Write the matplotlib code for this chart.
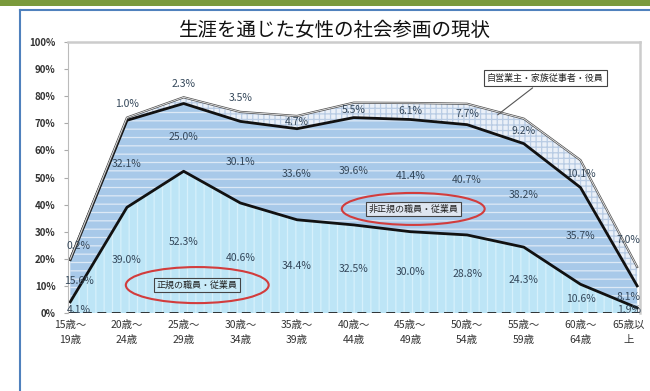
import matplotlib
matplotlib.use("Agg")
import matplotlib.pyplot as plt
from matplotlib.patches import Ellipse, Rectangle
from matplotlib.lines import Line2D
import numpy as np

plt.rcParams['font.family'] = ['Noto Sans CJK JP', 'DejaVu Sans']
plt.rcParams['hatch.linewidth'] = 0.9

# age groups
ages = ["15歳～\n19歳", "20歳～\n24歳", "25歳～\n29歳", "30歳～\n34歳", "35歳～\n39歳",
        "40歳～\n44歳", "45歳～\n49歳", "50歳～\n54歳", "55歳～\n59歳", "60歳～\n64歳", "65歳以\n上"]
# share of women by employment type (%)
regular = [4.1, 39.0, 52.3, 40.6, 34.4, 32.5, 30.0, 28.8, 24.3, 10.6, 1.9]
nonregular = [15.6, 32.1, 25.0, 30.1, 33.6, 39.6, 41.4, 40.7, 38.2, 35.7, 8.1]
selfemp = [0.2, 1.0, 2.3, 3.5, 4.7, 5.5, 6.1, 7.7, 9.2, 10.1, 7.0]
yticks = [0, 10, 20, 30, 40, 50, 60, 70, 80, 90, 100]

title = "生涯を通じた女性の社会参画の現状"
name_regular = "正規の職員・従業員"
name_nonregular = "非正規の職員・従業員"
name_self = "自営業主・家族従事者・役員"

x = np.arange(len(ages))
r = np.array(regular)
rn = r + np.array(nonregular)
tot = rn + np.array(selfemp)

fig = plt.figure(figsize=(6.5, 3.91), dpi=100)

# page decoration: green band, blue frame lines
fig.patches.append(Rectangle((0, 1 - 6/391), 1, 6/391, transform=fig.transFigure,
                             facecolor='#7a9a3c', edgecolor='none'))
fig.lines.append(Line2D([20/650, 1], [1 - 9.5/391] * 2, transform=fig.transFigure,
                        color='#4f81bd', lw=1.5))
fig.lines.append(Line2D([20/650] * 2, [0, 1 - 9.5/391], transform=fig.transFigure,
                        color='#4f81bd', lw=1.5))

fig.text(0.516, 1 - 30/391, title, ha='center', va='center', fontsize=14, color='#111111')

ax = fig.add_axes([68/650, 1 - 313/391, 572/650, 271/391])

ax.fill_between(x, 0, r, facecolor='#bde5f6', edgecolor='#d6f0fb', hatch='||', linewidth=0)
ax.fill_between(x, r, rn, facecolor='#a8c9e9', edgecolor='#dde9f6', hatch='--', linewidth=0)
ax.fill_between(x, rn, tot, facecolor='#eaf0f8', edgecolor='#b9cce4', hatch='+++', linewidth=0)

ax.plot(x, r, color='#111111', lw=2)
ax.plot(x, rn, color='#111111', lw=2)
ax.plot(x, tot, color='#555555', lw=1.6)
ax.plot(x, tot, color='white', lw=0.5)
ax.axhline(0, color='#222222', lw=2, dashes=(3.2, 2))

lab = dict(fontsize=7.5, color='#34475a', ha='center', va='center')
last = len(ages) - 1
for i in range(len(ages)):
    dx = 0.15 if i == 0 else (-0.15 if i == last else 0)
    ax.text(x[i] + dx, r[i] / 2 if i > 0 else 1.0, f"{regular[i]:.1f}%", **lab)
    ax.text(x[i] + dx, r[i] + nonregular[i] / 2, f"{nonregular[i]:.1f}%", **lab)
    if i == last:
        ys = tot[i] + 10
    elif selfemp[i] > 4:
        ys = tot[i] - selfemp[i] / 2
    else:
        ys = tot[i] + 5
    ax.text(x[i] + dx, ys, f"{selfemp[i]:.1f}%", clip_on=False, **lab)

# series names
box = dict(boxstyle='square,pad=0.35', facecolor='white', edgecolor='#444444', lw=0.8)
ax.annotate(name_self, xy=(7.5, 72.5), xytext=(8.38, 86.7), ha='center', va='center',
            fontsize=6.5, color='#222222', bbox=box,
            arrowprops=dict(arrowstyle='-', color='#555555', lw=0.8))
ax.text(6.05, 38.4, name_nonregular, ha='center', va='center', fontsize=6.5,
        color='#222222', bbox=dict(boxstyle='square,pad=0.3', facecolor='#dfe6f0',
                                   edgecolor='#444444', lw=0.8))
ax.add_patch(Ellipse((6.05, 38.4), 2.52, 11.8, facecolor='none', edgecolor='#d23c3c', lw=1.5))
ax.text(2.24, 10.3, name_regular, ha='center', va='center', fontsize=6.5,
        color='#222222', bbox=dict(boxstyle='square,pad=0.3', facecolor='#c9ebf8',
                                   edgecolor='#444444', lw=0.8))
ax.add_patch(Ellipse((2.24, 10.3), 2.52, 13.3, facecolor='none', edgecolor='#d23c3c', lw=1.5))

ax.set_xlim(-0.04, 10.05)
ax.set_ylim(0, 100)
ax.set_yticks(yticks)
ax.set_yticklabels([f"{t}%" for t in yticks], fontsize=7, color='#333333', fontweight='bold')
ax.set_xticks(x)
# last label sits on the right edge, so it is drawn by hand a little to the left
ax.set_xticklabels(ages[:-1] + [""], fontsize=7.5, color='#333333', linespacing=1.6)
ax.annotate(ages[-1], xy=(x[-1], 0), xycoords=('data', 'axes fraction'),
            xytext=(-6, -5), textcoords='offset points', ha='center', va='top',
            fontsize=7.5, color='#333333', linespacing=1.6)
ax.tick_params(axis='x', length=0, pad=5)
ax.tick_params(axis='y', length=3, color='#aaaaaa', pad=6)
for s in ['top', 'right']:
    ax.spines[s].set_color('#cccccc')
    ax.spines[s].set_linewidth(1.8)
ax.spines['left'].set_color('#bbbbbb')
ax.spines['bottom'].set_visible(False)

plt.savefig('out.png', dpi=100)
